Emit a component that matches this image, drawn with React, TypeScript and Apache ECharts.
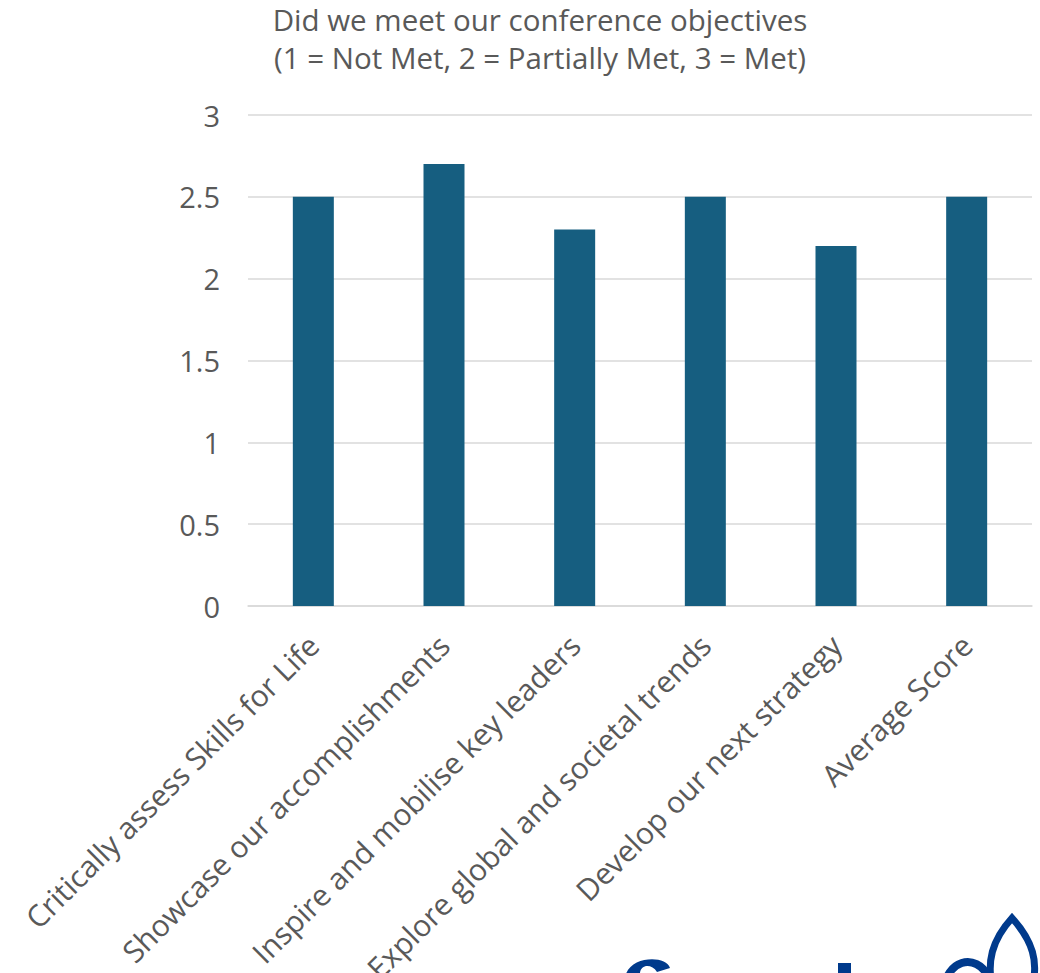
import React, { useEffect, useRef } from "react";
import * as echarts from "echarts";

const categories = [
  "Critically assess Skills for Life",
  "Showcase our accomplishments",
  "Inspire and mobilise key leaders",
  "Explore global and societal trends",
  "Develop our next strategy",
  "Average Score",
];
const scores = [2.5, 2.7, 2.3, 2.5, 2.2, 2.5];
const titleLines = [
  "Did we meet our conference objectives",
  "(1 = Not Met, 2 = Partially Met, 3 = Met)",
];

const FONT = "'Open Sans', 'Noto Sans', sans-serif";
const GREY = "#595959";
const NAVY = "#003a8c";

// Partial brand mark peeking in at the bottom edge
echarts.graphic.registerShape(
  "petalTop",
  echarts.graphic.extendPath(
    "M 993 990 C 986 962 992 940 1012 918 C 1032 940 1040 962 1031 990",
    {}
  )
);
echarts.graphic.registerShape(
  "petalLeft",
  echarts.graphic.extendPath("M 945 990 C 944 962 976 950 989 978", {})
);
echarts.graphic.registerShape(
  "letterS",
  echarts.graphic.extendPath(
    "M 625 980 C 625 956 666 954 670 968 L 657 972 C 652 964 641 964 640 973 L 640 980 Z",
    {}
  )
);

export default function App() {
  const ref = useRef<HTMLDivElement>(null);

  useEffect(() => {
    if (!ref.current) return;
    const chart = echarts.init(ref.current, null, { renderer: "svg" });
    chart.setOption({
      animation: false,
      backgroundColor: "#ffffff",
      title: {
        text: titleLines.join("\n"),
        left: 540,
        top: 0,
        padding: 0,
        textAlign: "center",
        textStyle: {
          fontFamily: FONT,
          fontSize: 29.5,
          fontWeight: "normal",
          color: GREY,
          lineHeight: 38,
        },
      },
      grid: {
        left: 248,
        width: 784,
        top: 115,
        height: 491,
        containLabel: false,
        outerBoundsMode: "none",
      },
      xAxis: {
        type: "category",
        data: categories,
        axisLine: { show: true, lineStyle: { color: "#d9d9d9", width: 1.5 } },
        axisTick: { show: false },
        axisLabel: {
          rotate: 45,
          interval: 0,
          margin: 34,
          fontFamily: FONT,
          fontSize: 30,
          color: GREY,
        },
      },
      yAxis: {
        type: "value",
        min: 0,
        max: 3,
        interval: 0.5,
        axisLine: { show: false },
        axisTick: { show: false },
        splitLine: { lineStyle: { color: "#d9d9d9", width: 1.5 } },
        axisLabel: {
          margin: 28,
          fontFamily: FONT,
          fontSize: 29,
          color: GREY,
        },
      },
      series: [
        {
          type: "bar",
          data: scores,
          barWidth: 41,
          itemStyle: { color: "#165e80" },
        },
      ],
      graphic: [
        {
          type: "letterS",
          style: { fill: NAVY },
          silent: true,
        },
        {
          type: "rect",
          shape: { x: 838, y: 963, width: 13, height: 20 },
          style: { fill: NAVY },
          silent: true,
        },
        {
          type: "petalTop",
          style: { fill: "none", stroke: NAVY, lineWidth: 7 },
          silent: true,
        },
        {
          type: "petalLeft",
          style: { fill: "none", stroke: NAVY, lineWidth: 8 },
          silent: true,
        },
      ],
    });
    return () => chart.dispose();
  }, []);

  return (
    <div
      ref={ref}
      style={{ position: "fixed", left: 0, top: 0, width: 1040, height: 973 }}
    />
  );
}
